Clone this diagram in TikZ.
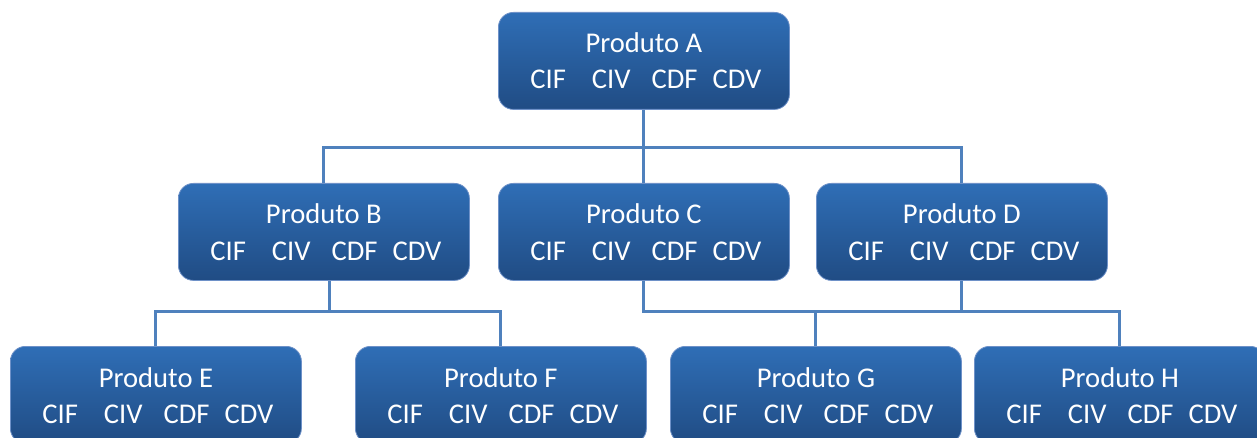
\documentclass[tikz,border=0pt]{standalone}
\usepackage{fontspec}
\setmainfont{Carlito}
\usetikzlibrary{calc}
\definecolor{boxtop}{RGB}{47,110,182}
\definecolor{boxbot}{RGB}{32,76,132}
\definecolor{boxedge}{RGB}{110,145,200}
\definecolor{linkc}{RGB}{79,129,189}
\tikzset{
  prodbox/.style={rounded corners=15pt, top color=boxtop, bottom color=boxbot,
    draw=boxedge, line width=0.8pt, minimum width=291pt, minimum height=97pt,
    inner sep=0pt, anchor=north west},
  prodtxt/.style={anchor=base, text=white, inner sep=0pt,
    font=\fontsize{28.6}{34}\selectfont},
  conn/.style={draw=linkc, line width=3pt}
}
\newcommand{\costline}{CIF\hspace{26pt}CIV\hspace{21pt}CDF\hspace{15pt}CDV}
\newcommand{\mkprod}[4]{%
  \node[prodbox] (#1) at (#2,#3) {};
  \node[prodtxt] (#1t) at ($(#1.north)+(0,-41)$) {Produto #4};
  \node[prodtxt] (#1c) at ($(#1.north)+(2,-77)$) {\costline};
}
\begin{document}
\begin{tikzpicture}[x=1pt,y=1pt]
\useasboundingbox (0,0) rectangle (1257,-438);
\mkprod{A}{498}{-12}{A}
\mkprod{B}{178}{-183}{B}
\mkprod{C}{498}{-183}{C}
\mkprod{D}{816}{-183}{D}
\mkprod{E}{10}{-346}{E}
\mkprod{F}{355}{-346}{F}
\mkprod{G}{670}{-346}{G}
\mkprod{H}{974}{-346}{H}
\coordinate (busA) at ($(A.south)+(0,-38)$);
\coordinate (busB) at ($(B.south)+(6,-31)$);
\coordinate (busC) at ($(C.south)+(0,-31)$);
\draw[conn] (A.south) -- (busA);
\draw[conn] (B.north) |- (busA) -| (D.north);
\draw[conn] (busA) -- (C.north);
\draw[conn] (B.south -| busB) -- (busB);
\draw[conn] (E.north) |- (busB) -| (F.north);
\draw[conn] (C.south) -- (busC) -| (H.north);
\draw[conn] (D.south) -- (D.south |- busC);
\draw[conn] (G.north) -- (G.north |- busC);
\end{tikzpicture}
\end{document}
